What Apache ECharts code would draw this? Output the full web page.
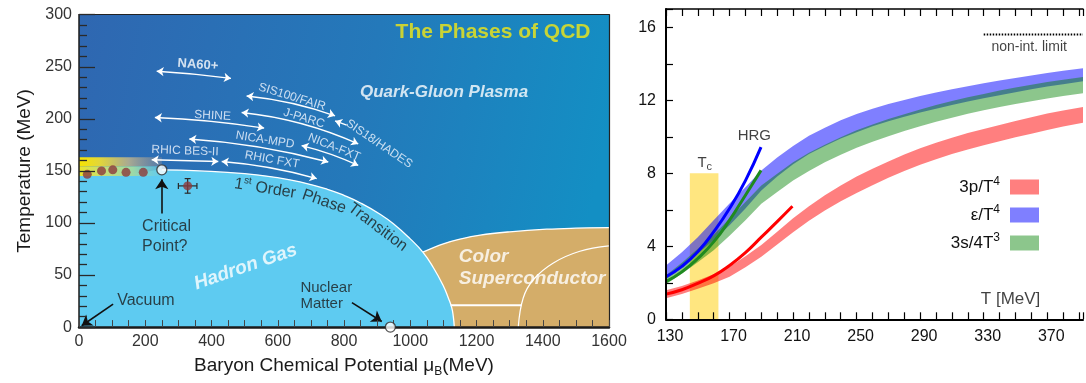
<!DOCTYPE html>
<html><head><meta charset="utf-8">
<script src="https://cdn.jsdelivr.net/npm/echarts@6/dist/echarts.min.js"></script>
<style>html,body{margin:0;padding:0;background:#fff}#c{width:1086px;height:383px}</style>
</head><body><div id="c"></div>
<script>
// ================= LEFT PANEL DATA (muB in MeV, T in MeV) =================
const hadronMu = [0,100,200,250,365,500,600,667,750,800,850,909,950,1000,1038,1070,1100,1115,1125,1130,1133];
const hadronT  = [146,147,149,151,150,147.4,143.5,139.5,132.3,126.5,119.2,108.4,99,84.7,72,57,39.5,28,19,10,0];
const cpIndex = 3;
const csTopMu = [1038,1100,1150,1211,1300,1412,1500,1600];
const csTopT  = [72,80,84.5,88.4,91.5,94,95,95.6];
const csInnerMu = [1326,1341,1372,1432,1512,1600];
const csInnerT  = [0,28,45.7,61.6,72.8,78];
const csFlatMu = [1122,1336];
const csFlatT  = [21,21];
const crossMu = [0,250];
const crossT  = [145,154.5,163];
const latticeMu = [25,68,102,142,194];
const latticeT  = [146.7,150,151,148.6,148.6];
const freezeMu = [328], freezeT = [135.6], freezeErrMu = [28], freezeErrT = [7];
const criticalPoint = [250,151];
const nuclearMatter = [940,0];
const expNames = ['NA60+','SIS100/FAIR','J-PARC','SHINE','NICA-MPD','NICA-FXT','RHIC BES-II','RHIC FXT'];
const expFrom  = [[234.6,245.7],[506,221.9],[491,206.1],[229,201.3],[333,180.7],[672,174.3],[219.5,160.7],[430.8,159]];
const expTo    = [[458.9,238.8],[773,202.9],[843,175.9],[559,191.1],[752.6,158.5],[843,155.2],[420.5,159],[717.6,142.6]];
const expCurve = [0.02,0.06,0.08,0.03,0.05,0.05,0.0,0.05];
const expLabelAt  = [[359,252],[643,221],[679,200.5],[403,203],[561.5,179.7],[770,172.6],[320,169.2],[582.6,160.7]];
const expLabelRot = [-4,-17,-17,-3,-9,-22,-2,-10];
const hadesArrow = [[808,194],[773,198]];
const hadesLabel = ['SIS18/HADES'], hadesAt = [[906,175.9]], hadesRot = [-34];
const cpArrow = [[250,109],[250,142]];
const vacuumArrow = [[103,22],[8,1.3]];
const nmArrow = [[824,23.5],[914,5.4]];

// ================= RIGHT PANEL DATA (T in MeV) =================
const T = [130,140,150,160,170,180,190,200,210,220,230,240,250,260,270,280,290,300,310,320,330,340,350,360,370,380,392.5];
const pLow = [1.15,1.38,1.67,1.97,2.33,2.85,3.43,4.1,4.77,5.4,5.96,6.47,6.92,7.35,7.75,8.13,8.47,8.77,9.05,9.3,9.53,9.75,9.97,10.17,10.37,10.56,10.77];
const pUp  = [1.59,1.82,2.13,2.47,2.88,3.45,4.07,4.8,5.53,6.2,6.8,7.33,7.82,8.25,8.65,9.03,9.37,9.67,9.95,10.2,10.43,10.65,10.87,11.07,11.27,11.44,11.63];
const eLow = [2.19,2.83,3.6,4.33,5.15,6.07,7.05,7.83,8.5,9.05,9.5,9.9,10.25,10.57,10.85,11.1,11.33,11.54,11.74,11.93,12.11,12.28,12.44,12.6,12.75,12.88,13.04];
const eUp  = [2.95,3.67,4.5,5.43,6.35,7.23,8.15,8.87,9.5,10.05,10.5,10.9,11.25,11.53,11.79,12.02,12.23,12.42,12.6,12.77,12.93,13.08,13.22,13.36,13.49,13.62,13.76];
const sLow = [1.92,2.5,3.13,3.78,4.58,5.43,6.33,6.98,7.6,8.12,8.6,9.02,9.4,9.73,10.03,10.32,10.58,10.82,11.04,11.26,11.45,11.63,11.8,11.95,12.1,12.23,12.38];
const sUp  = [2.42,3.1,3.87,4.62,5.52,6.43,7.33,7.98,8.6,9.12,9.56,9.98,10.36,10.67,10.97,11.24,11.5,11.74,11.96,12.16,12.35,12.53,12.7,12.85,13.0,13.13,13.28];
const hrgT  = [130,140,150,160,170,180,189.8];
const hrgE  = [2.33,2.9,3.7,4.79,6.07,7.6,9.43];
const hrgS  = [2.06,2.6,3.33,4.24,5.43,6.8,8.16];
const hrgPT = [130,140,150,160,170,180,190,200,209.6];
const hrgP  = [1.38,1.62,1.97,2.38,2.95,3.65,4.5,5.35,6.19];
const tcRange = [145,163], tcTop = [8];
const sbLimitT = [330,392.5], sbLimit = [15.6,15.6];
const xTickLabelsR = [130,170,210,250,290,330,370];
const yTickLabelsR = [0,4,8,12,16];

// ================= helpers / styles =================
const FONT = 'Liberation Sans, Arial, Helvetica, sans-serif';
const zip = (a,b) => a.map((v,i)=>[v,b[i]]);
const RICH = {
  sup:{fontSize:10, lineHeight:10, verticalAlign:'top', fontFamily:FONT},
  sub:{fontSize:11, lineHeight:11, verticalAlign:'bottom', fontFamily:FONT, color:'#111'},
  supw:{fontSize:10, lineHeight:10, verticalAlign:'top', fontFamily:FONT, color:'#1a1a1a'}
};
const STY = {
  exp:{fontSize:12, color:'#f4f8ff', fontFamily:FONT},
  expB:{fontSize:13, color:'#ffffff', fontWeight:'bold', fontFamily:FONT},
  title:{fontSize:21, color:'#f4e814', fontWeight:'bold', fontFamily:FONT},
  phase:{fontSize:19, color:'#ffffff', fontWeight:'bold', fontStyle:'italic', fontFamily:FONT, lineHeight:22},
  qgp:{fontSize:17, color:'#ffffff', fontWeight:'bold', fontStyle:'italic', fontFamily:FONT},
  blk:{fontSize:16, color:'#1a1a1a', fontFamily:FONT, lineHeight:20},
  blkS:{fontSize:15, color:'#1a1a1a', fontFamily:FONT, lineHeight:16},
  r15:{fontSize:15, color:'#111', fontFamily:FONT, lineHeight:18},
  r14:{fontSize:14, color:'#111', fontFamily:FONT},
  r17:{fontSize:17, color:'#111', fontFamily:FONT}
};
function textSeries(xi, yi, items, z){
  return {type:'scatter', xAxisIndex:xi, yAxisIndex:yi, symbolSize:1, silent:true, z:z||30,
    itemStyle:{color:'rgba(0,0,0,0)'},
    data: items.map(it => ({value: it.at, label: Object.assign({show:true, position: it.pos || 'inside', distance:0,
        formatter: it.text, rotate: it.rot || 0, rich: RICH, align: it.align || 'center'}, STY[it.st])}))};
}
function arrowSeries(pairs, color, width, symbols, size, curves, z){
  return {type:'lines', coordinateSystem:'cartesian2d', xAxisIndex:0, yAxisIndex:0, silent:true, z:z||25,
    symbol: symbols, symbolSize: size,
    lineStyle:{color:color, width:width, opacity:1},
    data: pairs.map((p,i)=>({coords:p, lineStyle:{curveness: curves ? curves[i] : 0}}))};
}
function bandSeries(name, low, up, color, z){
  return {type:'custom', name:name, xAxisIndex:2, yAxisIndex:2, clip:true, silent:true, z:z,
    itemStyle:{color:color},
    data:[[T[0], low[0]]],
    renderItem:(params, api) => {
      const pts = [];
      for (let i=0;i<T.length;i++) pts.push(api.coord([T[i], up[i]]));
      for (let i=T.length-1;i>=0;i--) pts.push(api.coord([T[i], low[i]]));
      return {type:'polygon', shape:{points:pts}, style:{fill:color}};
    }};
}

const bgGrad = new echarts.graphic.LinearGradient(0,0,1,0.35,[
  {offset:0,color:'#2f67b1'},{offset:0.55,color:'#2479ba'},{offset:1,color:'#138fc4'}]);

const leftLabels = [];
expNames.forEach((n,i)=>leftLabels.push({text:n, at:expLabelAt[i], rot:expLabelRot[i], st: i===0?'expB':'exp'}));
hadesLabel.forEach((n,i)=>leftLabels.push({text:n, at:hadesAt[i], rot:hadesRot[i], st:'exp'}));
leftLabels.push({text:'The Phases of QCD', at:[1250,283], st:'title'});
leftLabels.push({text:'Quark-Gluon Plasma', at:[1102,225.4], st:'qgp'});
leftLabels.push({text:'Hadron Gas', at:[503,57.8], rot:19, st:'phase'});
leftLabels.push({text:'Color\nSuperconductor', at:[1145,56.9], st:'phase', pos:'right', align:'left'});
leftLabels.push({text:'Critical\nPoint?', at:[189,86.7], st:'blk', pos:'right', align:'left'});
leftLabels.push({text:'Vacuum', at:[113.7,25.1], st:'blk', pos:'right', align:'left'});
leftLabels.push({text:'Nuclear\nMatter', at:[667,30.2], st:'blkS', pos:'right', align:'left'});
leftLabels.push({text:'1{supw|st} Order', at:[562,133], rot:-9, st:'blk'});
leftLabels.push({text:'Phase', at:[740,120.5], rot:-19, st:'blk'});
leftLabels.push({text:'Transition', at:[902,96], rot:-37, st:'blk'});

const rightLabels = [
  {text:'HRG', at:[185.6,10.07], st:'r15'},
  {text:'T{sub|c}', at:[154.4,8.55], st:'r15'},
  {text:'non-int. limit', at:[358.6,14.93], st:'r14'},
  {text:'T [MeV]', at:[346.9,1.1], st:'r17'}
];

const axisTxt = {fontFamily:FONT, color:'#333', fontSize:16};
const option = {
  animation:false,
  backgroundColor:'#ffffff',
  grid:[
    {left:79, top:14.7, width:530, height:315, show:true, backgroundColor:bgGrad, borderWidth:0},
    {left:666, top:9, width:420, height:310.3}
  ],
  xAxis:[
    {gridIndex:0, type:'value', min:0, max:1600, interval:50, z:10,
     name:'Baryon Chemical Potential μ{sub|B}(MeV)', nameLocation:'middle', nameGap:24,
     nameTextStyle:{fontFamily:FONT, fontSize:19, color:'#1a1a1a', lineHeight:24,
       rich:{sub:{fontSize:12, lineHeight:12, verticalAlign:'bottom', fontFamily:FONT, color:'#1a1a1a'}}},
     axisLine:{show:true, onZero:false, lineStyle:{color:'#1a1a1a', width:2.5}},
     axisTick:{show:true, inside:true, length:7, lineStyle:{color:'#444', width:1}},
     axisLabel:{...axisTxt, margin:6, formatter:v => v%200===0 ? String(v) : ''},
     splitLine:{show:false}},
    {gridIndex:0, type:'value', min:0, max:1600, position:'top', z:10,
     axisLine:{show:true, onZero:false, lineStyle:{color:'#222', width:1.2}},
     axisTick:{show:false}, axisLabel:{show:false}, splitLine:{show:false}},
    {gridIndex:1, type:'value', min:130, max:392.5, interval:10, z:10,
     axisLine:{show:true, onZero:false, lineStyle:{color:'#000', width:2}},
     axisTick:{show:true, inside:true, length:7, lineStyle:{color:'#000', width:1.2}},
     axisLabel:{fontFamily:FONT, color:'#111', fontSize:16, margin:9, padding:[0,0,0,8],
       formatter:v => xTickLabelsR.indexOf(v)>=0 ? String(v) : ''},
     splitLine:{show:false}},
    {gridIndex:1, type:'value', min:130, max:392.5, interval:10, position:'top', z:10,
     axisLine:{show:true, onZero:false, lineStyle:{color:'#000', width:1.5}},
     axisTick:{show:true, inside:true, length:7, lineStyle:{color:'#000', width:1.2}},
     axisLabel:{show:false}, splitLine:{show:false}}
  ],
  yAxis:[
    {gridIndex:0, type:'value', min:0, max:300, interval:50, z:10,
     name:'Temperature (MeV)', nameLocation:'middle', nameGap:45,
     nameTextStyle:{fontFamily:FONT, fontSize:19, color:'#1a1a1a'},
     axisLine:{show:true, onZero:false, lineStyle:{color:'#1a1a1a', width:1.5}},
     axisTick:{show:true, inside:true, length:16, lineStyle:{color:'#2a2a2a', width:1.3}},
     minorTick:{show:true, splitNumber:5, length:8, lineStyle:{color:'#2a2a2a', width:1.3}},
     axisLabel:{...axisTxt, margin:7},
     splitLine:{show:false}, minorSplitLine:{show:false}},
    {gridIndex:0, type:'value', min:0, max:300, position:'right', z:10,
     axisLine:{show:true, onZero:false, lineStyle:{color:'#222', width:1.2}},
     axisTick:{show:false}, axisLabel:{show:false}, splitLine:{show:false}},
    {gridIndex:1, type:'value', min:0, max:17, interval:2, z:10,
     axisLine:{show:true, onZero:false, lineStyle:{color:'#000', width:2}},
     axisTick:{show:true, inside:true, length:7, lineStyle:{color:'#000', width:1.2}},
     axisLabel:{fontFamily:FONT, color:'#111', fontSize:16, margin:10,
       formatter:v => yTickLabelsR.indexOf(v)>=0 ? String(v) : ''},
     splitLine:{show:false}}
  ],
  legend:{
    orient:'vertical', right:42, top:171, align:'right', itemWidth:29, itemHeight:15, itemGap:6,
    icon:'rect', selectedMode:false,
    textStyle:{fontFamily:FONT, fontSize:17, color:'#111', lineHeight:22, padding:[0,5,0,0],
      rich:{sup:{fontSize:12, lineHeight:12, verticalAlign:'top', fontFamily:FONT, color:'#111'}}},
    formatter: n => ({p:'3p/T{sup|4}', e:'ε/T{sup|4}', s:'3s/4T{sup|3}'})[n],
    data:[
      {name:'p', icon:'rect', itemStyle:{color:'#ff7f7f'}},
      {name:'e', icon:'rect', itemStyle:{color:'#7f7fff'}},
      {name:'s', icon:'rect', itemStyle:{color:'#8cc68c'}}
    ]
  },
  series:[
    {type:'line', xAxisIndex:0, yAxisIndex:0, data:zip(csTopMu,csTopT), smooth:0.4,
     symbol:'none', silent:true, z:2, areaStyle:{color:'#d4ad69', opacity:1},
     lineStyle:{color:'#ffffff', width:1.3}},
    {type:'line', xAxisIndex:0, yAxisIndex:0, data:zip(hadronMu,hadronT), smooth:0.5,
     symbol:'none', silent:true, z:3, areaStyle:{color:'#5ecbf1', opacity:1},
     lineStyle:{width:0, opacity:0}},
    {type:'line', xAxisIndex:0, yAxisIndex:0, data:zip(hadronMu,hadronT).slice(cpIndex), smooth:0.5,
     symbol:'none', silent:true, z:4, lineStyle:{color:'#ffffff', width:1.3}},
    {type:'line', xAxisIndex:0, yAxisIndex:0, data:zip(csInnerMu,csInnerT), smooth:0.4,
     symbol:'none', silent:true, z:4, lineStyle:{color:'#ffffff', width:1.2}},
    {type:'line', xAxisIndex:0, yAxisIndex:0, data:zip(csFlatMu,csFlatT),
     symbol:'none', silent:true, z:4, lineStyle:{color:'#ffffff', width:2}},
    {type:'custom', xAxisIndex:0, yAxisIndex:0, silent:true, z:5, data:[[crossMu[0],crossT[0]]],
     renderItem:(params, api) => {
       const a = api.coord([crossMu[0], crossT[2]]), b = api.coord([crossMu[1], crossT[1]]);
       const c = api.coord([crossMu[0], crossT[1]]), d = api.coord([crossMu[1], crossT[0]]);
       return {type:'group', children:[
         {type:'rect', shape:{x:a[0], y:a[1], width:b[0]-a[0], height:b[1]-a[1]},
          style:{fill:new echarts.graphic.LinearGradient(0,0,1,0,[
            {offset:0,color:'#f7e400'},{offset:0.25,color:'#e2d63a'},{offset:0.6,color:'#a9aa92'},{offset:1,color:'rgba(120,135,160,0.55)'}])}},
         {type:'rect', shape:{x:c[0], y:c[1], width:d[0]-c[0], height:d[1]-c[1]},
          style:{fill:new echarts.graphic.LinearGradient(0,0,1,0,[
            {offset:0,color:'#e9e52a'},{offset:0.3,color:'#c4de78'},{offset:0.65,color:'#9dd9a6'},{offset:1,color:'rgba(100,205,238,0.7)'}])}}
       ]};
     }},
    arrowSeries(expFrom.map((f,i)=>[f, expTo[i]]), '#ffffff', 1.4, ['arrow','arrow'], 7, expCurve, 6),
    arrowSeries([hadesArrow], '#ffffff', 1.4, ['none','arrow'], 7, null, 6),
    arrowSeries([cpArrow, vacuumArrow, nmArrow], '#111111', 1.6, ['none','arrow'], [0,10], null, 7),
    {type:'scatter', xAxisIndex:0, yAxisIndex:0, data:zip(latticeMu,latticeT), symbolSize:9, silent:true, z:8,
     itemStyle:{color:'#8c3a3c'}},
    {type:'custom', xAxisIndex:0, yAxisIndex:0, silent:true, z:8, data:zip(freezeMu,freezeT).map((p,i)=>[p[0],p[1],freezeErrMu[i],freezeErrT[i]]),
     renderItem:(params, api) => {
       const x=api.value(0), y=api.value(1), ex=api.value(2), ey=api.value(3);
       const l=api.coord([x-ex,y]), r=api.coord([x+ex,y]), t=api.coord([x,y+ey]), b=api.coord([x,y-ey]);
       const st={stroke:'#2a2a2a', lineWidth:1.2}, c=3;
       return {type:'group', children:[
         {type:'line', shape:{x1:l[0],y1:l[1],x2:r[0],y2:r[1]}, style:st},
         {type:'line', shape:{x1:t[0],y1:t[1],x2:b[0],y2:b[1]}, style:st},
         {type:'line', shape:{x1:l[0],y1:l[1]-c,x2:l[0],y2:l[1]+c}, style:st},
         {type:'line', shape:{x1:r[0],y1:r[1]-c,x2:r[0],y2:r[1]+c}, style:st},
         {type:'line', shape:{x1:t[0]-c,y1:t[1],x2:t[0]+c,y2:t[1]}, style:st},
         {type:'line', shape:{x1:b[0]-c,y1:b[1],x2:b[0]+c,y2:b[1]}, style:st}
       ]};
     }},
    {type:'scatter', xAxisIndex:0, yAxisIndex:0, data:zip(freezeMu,freezeT), symbolSize:9, silent:true, z:9,
     itemStyle:{color:'#8c3a3c'}},
    {type:'scatter', xAxisIndex:0, yAxisIndex:0, data:[criticalPoint, nuclearMatter], symbolSize:10, silent:true, z:12,
     itemStyle:{color:'#ffffff', borderColor:'#2a2a2a', borderWidth:1.3}},
    textSeries(0, 0, leftLabels, 20),
    // ---- right panel
    {type:'custom', xAxisIndex:2, yAxisIndex:2, silent:true, z:1, clip:true, data:[[tcRange[0], tcTop[0]]],
     renderItem:(params, api) => {
       const a = api.coord([tcRange[0], tcTop[0]]), b = api.coord([tcRange[1], 0]);
       return {type:'rect', shape:{x:a[0], y:a[1], width:b[0]-a[0], height:b[1]-a[1]}, style:{fill:'#ffe680'}};
     }},
    bandSeries('p', pLow, pUp, 'rgba(255,0,0,0.5)', 2),
    bandSeries('e', eLow, eUp, 'rgba(0,0,255,0.5)', 3),
    bandSeries('s', sLow, sUp, 'rgba(0,128,0,0.45)', 4),
    {type:'line', xAxisIndex:2, yAxisIndex:2, data:zip(hrgPT,hrgP), smooth:true, symbol:'none', silent:true, z:6,
     lineStyle:{color:'#ff0000', width:3}},
    {type:'line', xAxisIndex:2, yAxisIndex:2, data:zip(hrgT,hrgE), smooth:true, symbol:'none', silent:true, z:6,
     lineStyle:{color:'#0000ff', width:3}},
    {type:'line', xAxisIndex:2, yAxisIndex:2, data:zip(hrgT,hrgS), smooth:true, symbol:'none', silent:true, z:6,
     lineStyle:{color:'#1f8a1f', width:3}},
    {type:'line', xAxisIndex:2, yAxisIndex:2, data:zip(sbLimitT,sbLimit), symbol:'none', silent:true, z:6,
     lineStyle:{color:'#000', width:2, type:[1.5,1.5]}},
    textSeries(2, 2, rightLabels, 20)
  ]
};
const chart = echarts.init(document.getElementById('c'));
chart.setOption(option);
</script>
</body></html>
